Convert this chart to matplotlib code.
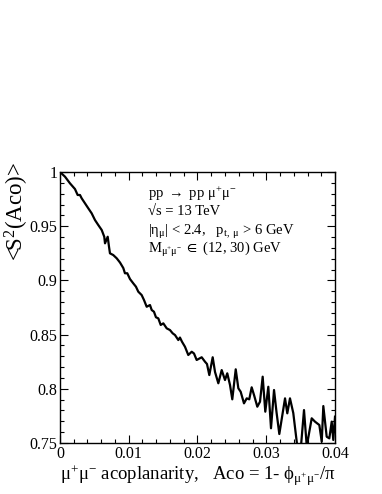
import numpy as np
import matplotlib.pyplot as plt
from matplotlib.ticker import MultipleLocator

plt.rcParams['font.family'] = ['Liberation Serif', 'DejaVu Serif']
plt.rcParams['mathtext.fontset'] = 'custom'
plt.rcParams['mathtext.rm'] = 'Liberation Serif'
plt.rcParams['mathtext.it'] = 'Liberation Serif:italic'
plt.rcParams['mathtext.bf'] = 'Liberation Serif:bold'
plt.rcParams['mathtext.fallback'] = 'stix'

# acoplanarity values and <S^2(Aco)>
aco = [0.0, 0.00073, 0.00145, 0.00218, 0.00257, 0.00291, 0.00316, 0.00364,
       0.00412, 0.00461, 0.00509, 0.00557, 0.00607, 0.00644, 0.00655, 0.00694,
       0.00713, 0.00727, 0.00775, 0.00825, 0.00873, 0.00921, 0.00945, 0.00979,
       0.01018, 0.01066, 0.01105, 0.01139, 0.01188, 0.01222, 0.01261, 0.01309,
       0.01334, 0.01367, 0.01396, 0.01430, 0.01465, 0.01503, 0.01552, 0.01600,
       0.01639, 0.01673, 0.01721, 0.01745, 0.01775, 0.01818, 0.01866, 0.01916,
       0.01949, 0.01988, 0.02061, 0.02109, 0.02138, 0.02172, 0.02221, 0.02255,
       0.02303, 0.02352, 0.02400, 0.02433, 0.02473, 0.02506, 0.02556, 0.02594,
       0.02628, 0.02676, 0.02716, 0.02753, 0.02788, 0.02822, 0.02870, 0.02909,
       0.02948, 0.02986, 0.03030, 0.03069, 0.03113, 0.03149, 0.03190, 0.03273,
       0.03306, 0.03345, 0.03393, 0.03451, 0.03505, 0.03549, 0.03589, 0.03661,
       0.03709, 0.03772, 0.03807, 0.03830, 0.03879, 0.03917, 0.03952, 0.03975,
       0.04]
s2 = [1.0, 0.9957, 0.9896, 0.9843, 0.9788, 0.9788, 0.9757, 0.9711,
      0.9665, 0.9619, 0.9557, 0.9511, 0.9465, 0.9403, 0.9342, 0.9403,
      0.9311, 0.9250, 0.9234, 0.9204, 0.9165, 0.9114, 0.9066, 0.9066,
      0.9013, 0.8973, 0.8942, 0.8896, 0.8865, 0.8819, 0.8757, 0.8773,
      0.8727, 0.8711, 0.8660, 0.8650, 0.8589, 0.8604, 0.8558, 0.8542,
      0.8512, 0.8496, 0.8450, 0.8473, 0.8434, 0.8388, 0.8312, 0.8342,
      0.8326, 0.8266, 0.8291, 0.8250, 0.8229, 0.8127, 0.8291, 0.8155,
      0.8051, 0.8173, 0.8081, 0.8143, 0.8035, 0.7903, 0.8180, 0.8005,
      0.7973, 0.7866, 0.7912, 0.7903, 0.8014, 0.7943, 0.7835, 0.7881,
      0.8112, 0.7789, 0.8019, 0.7636, 0.7989, 0.7786, 0.7583, 0.7912,
      0.7774, 0.7912, 0.7777, 0.7470, 0.7470, 0.7804, 0.7470, 0.7728,
      0.7697, 0.7666, 0.7512, 0.7841, 0.7558, 0.7543, 0.7697, 0.7528,
      0.7743]

xticks = [0, 0.01, 0.02, 0.03, 0.04]
xtick_labels = ['0', '0.01', '0.02', '0.03', '0.04']
yticks = [0.75, 0.8, 0.85, 0.9, 0.95, 1.0]
ytick_labels = ['0.75', '0.8', '0.85', '0.9', '0.95', '1']

fig = plt.figure(figsize=(3.82, 4.94), dpi=100)
ax = fig.add_axes([0.157, 0.1032, 0.72, 0.5486])

ax.plot(aco, s2, color='black', linewidth=1.6)
ax.set_xlim(0, 0.04)
ax.set_ylim(0.75, 1.0)

# ticks inside on all four sides, major + minor
ax.set_xticks(xticks)
ax.set_xticklabels(xtick_labels)
ax.set_yticks(yticks)
ax.set_yticklabels(ytick_labels)
ax.xaxis.set_minor_locator(MultipleLocator(0.002))
ax.yaxis.set_minor_locator(MultipleLocator(0.01))
ax.tick_params(which='both', direction='in', top=True, right=True,
               labelsize=11.5, width=0.8)
ax.tick_params(which='major', length=6)
ax.tick_params(which='minor', length=3)
ax.tick_params(axis='x', pad=2)
ax.tick_params(axis='y', pad=2)
for sp in ax.spines.values():
    sp.set_linewidth(1.0)

# y label sits near the top of the axis, like the original
ax.set_ylabel(r'<S$^{2}$(Aco)>', fontsize=16.5)
ax.yaxis.set_label_coords(-0.107, 0.855)
ax.set_xlabel(r'$\mathrm{\mu^{+}\mu^{-}}$ acoplanarity,   Aco = 1- '
              r'$\mathrm{\phi_{\mu^{+}\mu^{-}}}$/$\mathrm{\pi}$',
              fontsize=13.5, labelpad=1)

# process / cuts annotation
lines = [r'pp $\rightarrow$ pp $\mathrm{\mu^{+}\mu^{-}}$',
         '\u221as = 13 TeV',
         r'|$\mathrm{\eta_{\mu}}$| < 2.4,   $\mathrm{p_{t,\ \mu}}$ > 6 GeV',
         r'$\mathrm{M_{\mu^{+}\mu^{-}}}$ $\in$ (12, 30) GeV']
ypos = [0.905, 0.84, 0.768, 0.703]
for txt, yy in zip(lines, ypos):
    ax.text(0.32, yy, txt, transform=ax.transAxes, fontsize=10.5,
            va='baseline', ha='left')

fig.savefig('out.png', dpi=100)
